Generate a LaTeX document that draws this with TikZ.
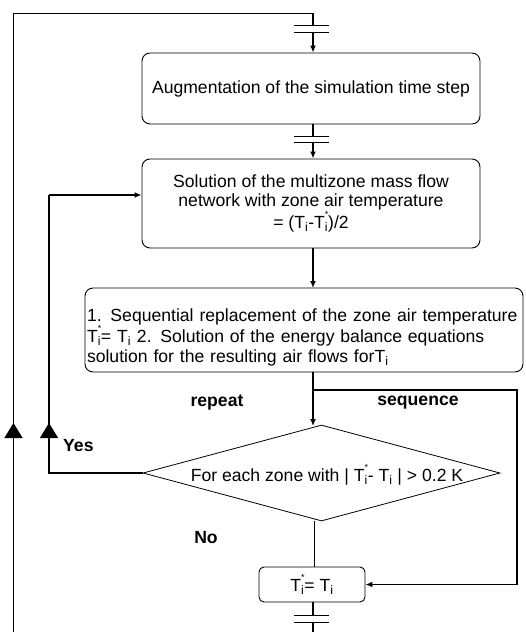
\documentclass[tikz,border=0pt]{standalone}
\usepackage{fontspec}
\setmainfont{Liberation Sans}
\usetikzlibrary{arrows.meta,shapes.geometric}
\newcommand\Tis{T\rlap{\raisebox{0.62em}{\fontsize{9}{9}\selectfont *}}\textsubscript{i}}
\newcommand\Ti{T\textsubscript{i}}
\begin{document}
\begin{tikzpicture}[x=1pt,y=-1pt,
  font=\fontsize{17.6}{19.5}\selectfont,
  procbox/.style={draw,line width=0.9pt,rounded corners=8pt,inner sep=0pt,align=center},
  flow/.style={line width=2pt,-{Latex[length=7pt,width=6pt]}},
  plain/.style={line width=2pt},
  loopline/.style={line width=1.3pt},
  plate/.style={line width=1pt},
  bigtip/.style={line width=1.3pt,-{Triangle[length=15pt,width=18pt]}},
  lab/.style={font=\fontsize{17.6}{19.5}\selectfont\bfseries}]
\useasboundingbox (0,0) rectangle (525,632);
\clip (0,0) rectangle (525,632);

% boxes
\node[procbox,minimum width=338pt,minimum height=71pt] (aug) at (311,88.5)
  {Augmentation of the simulation time step};
\node[procbox,minimum width=338pt,minimum height=89pt] (sol) at (311,203.5)
  {Solution of the multizone mass flow\\network with zone air temperature\\= (\Ti-\Tis)/2};
\node[procbox,minimum width=438pt,minimum height=84pt,text width=434pt,align=left,inner xsep=2pt] (seq) at (304,330)
  {\rule{0pt}{27pt}1. Sequential replacement of the zone air temperature\\\Tis= \Ti{} 2. Solution of the energy balance equations\\solution for the resulting air flows for\Ti};
\node[draw,diamond,line width=0.8pt,inner sep=0pt,minimum width=357pt,minimum height=96pt] (chk) at (321.5,473) {};
\node (chktext) at (327,475) {For each zone with | \Tis- \Ti{} | > 0.2 K};
\node[procbox,rounded corners=5pt,minimum width=106pt,minimum height=35pt] (set) at (312,584.5) {\Tis= \Ti};

% capacitor-like separators
\coordinate (c1a) at (313,25);
\coordinate (c1b) at (313,32);
\coordinate (c2a) at (313,136);
\coordinate (c2b) at (313,142);
\coordinate (c3a) at (313,615);
\coordinate (c3b) at (313,622);
\foreach \c in {c1a,c1b,c2a,c2b,c3a,c3b}
  \draw[plate] ([xshift=-19pt]\c) -- ([xshift=16pt]\c);

% outer loop
\coordinate (otop) at (13.5,13.5);
\coordinate (obot) at (13.5,640);
\draw[loopline] (obot) -- (otop) -| (c1a);
\draw[bigtip] (13.5,440) -- (13.5,423);
\draw[flow] (c1b) -- (c1b |- aug.north);

\draw[plain,line width=1.6pt] (c2a |- aug.south) -- (c2a);
\draw[flow] (c2b) -- (c2b |- sol.north);
\draw[flow] (313,248) -- (313,288);

% split after seq
\coordinate (split) at (313,390);
\coordinate (corner) at (517,390);
\draw[plain] (313,372) -- (split);
\draw[flow] (split) -- (313,426);
\draw[line width=1.6pt,-{Latex[length=7pt,width=6pt]}] (split) -- (corner) |- (set.east);

% yes loop
\coordinate (ybot) at (49,473);
\coordinate (ytop) at (49,195);
\draw[loopline] (chk.west) -- (ybot) -- (ytop);
\draw[flow] (ytop) -- (sol.west |- ytop);
\draw[bigtip] (49,440) -- (49,423);

% no branch
\draw[line width=1pt] (314,521) -- (314,567);
\draw[line width=1.6pt] (313,602) -- (c3a);
\draw[line width=1.6pt] (c3b) -- (313,640);

% labels
\node[lab] (lrep) at (217,403) {repeat};
\node[lab] (lseq) at (418,403) {sequence};
\node[lab,anchor=west,inner sep=0pt] (lyes) at (63,446) {Yes};
\node[lab] (lno) at (206,538) {No};
\end{tikzpicture}
\end{document}
